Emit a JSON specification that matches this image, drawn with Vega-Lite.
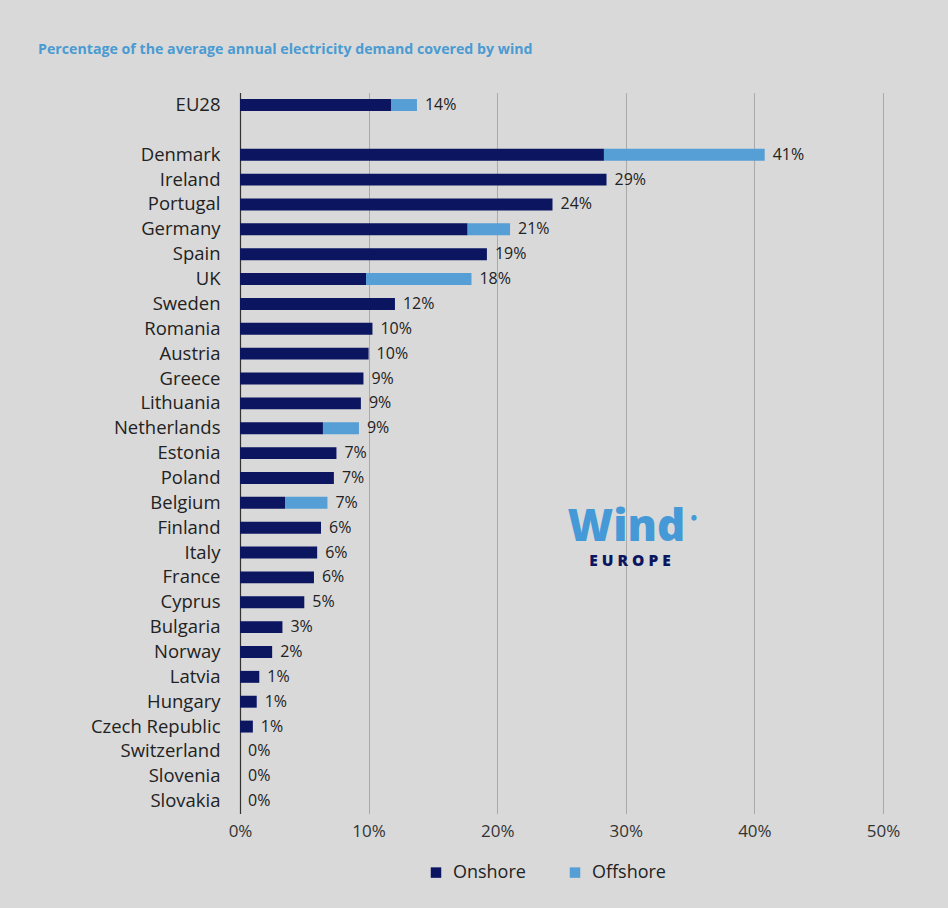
{
  "$schema": "https://vega.github.io/schema/vega-lite/v6.json",
  "autosize": "none",
  "width": 643,
  "height": 721,
  "padding": {"left": 240, "top": 92.6, "right": 65, "bottom": 94},
  "background": "#d9d9d9",
  "title": {
    "text": "Percentage of the average annual electricity demand covered by wind",
    "anchor": "start",
    "frame": "group",
    "dx": -202,
    "offset": 35,
    "font": "Open Sans",
    "fontSize": 14.2,
    "fontWeight": "bold",
    "color": "#4a9bd2"
  },
  "datasets": {
    "wind": [
      {"country": "EU28", "Onshore": 0.1174, "Offshore": 0.0202, "total": 0.1376, "label": "14%"},
      {"country": "Denmark", "Onshore": 0.283, "Offshore": 0.125, "total": 0.408, "label": "41%"},
      {"country": "Ireland", "Onshore": 0.285, "Offshore": 0, "total": 0.285, "label": "29%"},
      {"country": "Portugal", "Onshore": 0.243, "Offshore": 0, "total": 0.243, "label": "24%"},
      {"country": "Germany", "Onshore": 0.177, "Offshore": 0.033, "total": 0.21, "label": "21%"},
      {"country": "Spain", "Onshore": 0.192, "Offshore": 0, "total": 0.192, "label": "19%"},
      {"country": "UK", "Onshore": 0.098, "Offshore": 0.082, "total": 0.18, "label": "18%"},
      {"country": "Sweden", "Onshore": 0.1205, "Offshore": 0, "total": 0.1205, "label": "12%"},
      {"country": "Romania", "Onshore": 0.103, "Offshore": 0, "total": 0.103, "label": "10%"},
      {"country": "Austria", "Onshore": 0.1, "Offshore": 0, "total": 0.1, "label": "10%"},
      {"country": "Greece", "Onshore": 0.096, "Offshore": 0, "total": 0.096, "label": "9%"},
      {"country": "Lithuania", "Onshore": 0.094, "Offshore": 0, "total": 0.094, "label": "9%"},
      {"country": "Netherlands", "Onshore": 0.0645, "Offshore": 0.028, "total": 0.0925, "label": "9%"},
      {"country": "Estonia", "Onshore": 0.075, "Offshore": 0, "total": 0.075, "label": "7%"},
      {"country": "Poland", "Onshore": 0.073, "Offshore": 0, "total": 0.073, "label": "7%"},
      {"country": "Belgium", "Onshore": 0.035, "Offshore": 0.033, "total": 0.068, "label": "7%"},
      {"country": "Finland", "Onshore": 0.063, "Offshore": 0, "total": 0.063, "label": "6%"},
      {"country": "Italy", "Onshore": 0.06, "Offshore": 0, "total": 0.06, "label": "6%"},
      {"country": "France", "Onshore": 0.0575, "Offshore": 0, "total": 0.0575, "label": "6%"},
      {"country": "Cyprus", "Onshore": 0.05, "Offshore": 0, "total": 0.05, "label": "5%"},
      {"country": "Bulgaria", "Onshore": 0.033, "Offshore": 0, "total": 0.033, "label": "3%"},
      {"country": "Norway", "Onshore": 0.025, "Offshore": 0, "total": 0.025, "label": "2%"},
      {"country": "Latvia", "Onshore": 0.015, "Offshore": 0, "total": 0.015, "label": "1%"},
      {"country": "Hungary", "Onshore": 0.013, "Offshore": 0, "total": 0.013, "label": "1%"},
      {"country": "Czech Republic", "Onshore": 0.01, "Offshore": 0, "total": 0.01, "label": "1%"},
      {"country": "Switzerland", "Onshore": 0, "Offshore": 0, "total": 0, "label": "0%"},
      {"country": "Slovenia", "Onshore": 0, "Offshore": 0, "total": 0, "label": "0%"},
      {"country": "Slovakia", "Onshore": 0, "Offshore": 0, "total": 0, "label": "0%"}
    ]
  },
  "data": {"name": "wind"},
  "encoding": {
    "y": {
      "field": "country",
      "type": "nominal",
      "scale": {
        "domain": ["EU28", " ", "Denmark", "Ireland", "Portugal", "Germany", "Spain", "UK", "Sweden", "Romania", "Austria", "Greece", "Lithuania", "Netherlands", "Estonia", "Poland", "Belgium", "Finland", "Italy", "France", "Cyprus", "Bulgaria", "Norway", "Latvia", "Hungary", "Czech Republic", "Switzerland", "Slovenia", "Slovakia"],
        "paddingInner": 0.52,
        "paddingOuter": 0.26
      },
      "axis": {
        "title": null,
        "ticks": false,
        "labelPadding": 20,
        "labelFont": "Open Sans",
        "labelFontSize": 18.5,
        "labelColor": "#222222",
        "domain": true,
        "domainColor": "#333333",
        "domainWidth": 1.2,
        "grid": false
      }
    }
  },
  "layer": [
    {
      "transform": [{"fold": ["Onshore", "Offshore"], "as": ["type", "value"]}],
      "mark": {"type": "bar"},
      "encoding": {
        "x": {
          "field": "value",
          "type": "quantitative",
          "stack": "zero",
          "scale": {"domain": [0, 0.5], "nice": false},
          "axis": {
            "title": null,
            "format": ".0%",
            "values": [0, 0.1, 0.2, 0.3, 0.4, 0.5],
            "grid": true,
            "gridColor": "#a9a9a9",
            "gridWidth": 1,
            "domain": false,
            "ticks": false,
            "labelFlush": false,
            "labelPadding": 10,
            "labelFont": "Open Sans",
            "labelFontSize": 17,
            "labelColor": "#333333"
          }
        },
        "color": {
          "field": "type",
          "type": "nominal",
          "scale": {"domain": ["Onshore", "Offshore"], "range": ["#0b1560", "#559ed6"]},
          "legend": {
            "title": null,
            "orient": "none",
            "direction": "horizontal",
            "legendX": 187,
            "legendY": 771,
            "symbolType": "square",
            "symbolSize": 110,
            "symbolStrokeWidth": 0,
            "labelFont": "Open Sans",
            "labelFontSize": 18,
            "labelColor": "#222222",
            "labelOffset": 8,
            "columnPadding": 40
          }
        },
        "order": {"field": "type", "sort": "descending"}
      }
    },
    {
      "mark": {"type": "text", "align": "left", "baseline": "middle", "dx": 8, "font": "Open Sans", "fontSize": 16, "color": "#222222"},
      "encoding": {
        "x": {"field": "total", "type": "quantitative"},
        "text": {"field": "label"}
      }
    },
    {
      "data": {"values": [{}]},
      "mark": {"type": "text", "align": "center", "baseline": "alphabetic", "font": "Open Sans", "fontSize": 44, "fontWeight": 800, "color": "#4599d7", "dy": 13},
      "encoding": {
        "x": {"datum": 0.3005},
        "y": {"datum": "Finland"},
        "text": {"value": "Wind"}
      }
    },
    {
      "data": {"values": [{}]},
      "mark": {"type": "text", "align": "center", "baseline": "middle", "font": "Open Sans", "fontSize": 15.5, "fontWeight": 800, "color": "#0b1560", "dy": 8},
      "encoding": {
        "x": {"datum": 0.3033},
        "y": {"datum": "Italy"},
        "text": {"value": "E    U    R    O    P    E"}
      }
    },
    {
      "data": {"values": [{}]},
      "mark": {"type": "text", "align": "center", "baseline": "middle", "font": "Open Sans", "fontSize": 16, "fontWeight": 800, "color": "#4599d7", "dy": -9},
      "encoding": {
        "x": {"datum": 0.353},
        "y": {"datum": "Finland"},
        "text": {"value": "•"}
      }
    }
  ],
  "config": {
    "view": {"stroke": null},
    "axis": {"labelFontWeight": "normal"}
  }
}
